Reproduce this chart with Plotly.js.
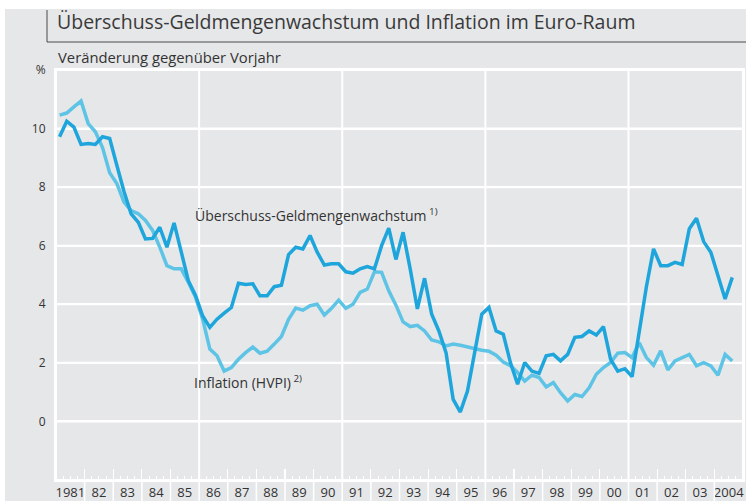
<!DOCTYPE html>
<html>
<head>
<meta charset="utf-8">
<script src="https://cdn.plot.ly/plotly-3.0.1.min.js"></script>
<style>html,body{margin:0;padding:0;background:#fff;}#chart{width:746px;height:501px;}</style>
</head>
<body>
<div id="chart"></div>
<script>
// Quarterly observations, 1981 Q1 – 2004 Q3 (year-on-year % change)
const startYear = 1981;
const quarterCount = 95;
const moneyGrowth = [
  9.72, 10.25, 10.05, 9.46,   9.49, 9.46, 9.72, 9.66,   8.75, 7.85, 7.09, 6.80,
  6.23, 6.25, 6.63, 5.95,     6.78, 5.80, 4.80, 4.30,   3.60, 3.21, 3.49, 3.70,
  3.89, 4.72, 4.68, 4.70,     4.29, 4.29, 4.60, 4.65,   5.70, 5.95, 5.89, 6.35,
  5.78, 5.34, 5.38, 5.38,     5.11, 5.06, 5.21, 5.29,   5.21, 6.00, 6.60, 5.53,
  6.46, 5.20, 3.84, 4.89,     3.66, 3.09, 2.35, 0.75,   0.32, 1.04, 2.35, 3.66,
  3.89, 3.09, 2.98, 2.01,     1.27, 2.01, 1.72, 1.64,   2.24, 2.29, 2.07, 2.29,
  2.87, 2.90, 3.09, 2.95,     3.24, 2.12, 1.72, 1.80,   1.53, 3.10, 4.60, 5.89,
  5.32, 5.32, 5.43, 5.36,     6.58, 6.94, 6.14, 5.78,   4.98, 4.18, 4.92
];
const inflation = [
  10.46, 10.53, 10.74, 10.94, 10.17, 9.89, 9.35, 8.49,  8.12, 7.49, 7.20, 7.09,
  6.86, 6.52, 5.95, 5.32,     5.21, 5.21, 4.75, 4.24,   3.49, 2.47, 2.24, 1.72,
  1.84, 2.12, 2.35, 2.54,     2.33, 2.40, 2.64, 2.90,   3.49, 3.87, 3.80, 3.95,
  4.00, 3.63, 3.86, 4.14,     3.86, 4.00, 4.41, 4.52,   5.11, 5.09, 4.46, 3.97,
  3.40, 3.24, 3.28, 3.09,     2.78, 2.72, 2.58, 2.64,   2.60, 2.54, 2.47, 2.43,
  2.40, 2.26, 2.03, 1.90,     1.67, 1.38, 1.58, 1.50,   1.18, 1.33, 0.98, 0.70,
  0.92, 0.85, 1.15, 1.61,     1.84, 2.01, 2.33, 2.35,   2.18, 2.69, 2.18, 1.92,
  2.41, 1.76, 2.07, 2.18,     2.29, 1.90, 2.01, 1.90,   1.58, 2.29, 2.06
];
const yearLabels = ["1981","82","83","84","85","86","87","88","89","90","91","92",
  "93","94","95","96","97","98","99","00","01","02","03","2004"];
const yTickValues = [0, 2, 4, 6, 8, 10, 12];
const yTickLabels = ["0", "2", "4", "6", "8", "10", "%"];
const gridYears = [1986, 1991, 1996, 2001];
const titleText = "Überschuss-Geldmengenwachstum und Inflation im Euro-Raum";
const subtitleText = "Veränderung gegenüber Vorjahr";
const moneyLabel = "Überschuss-Geldmengenwachstum<sup> 1)</sup>";
const inflationLabel = "Inflation (HVPI)<sup> 2)</sup>";

// quarter mid-points as decimal years
const quarters = [];
for (let i = 0; i < quarterCount; i++) quarters.push(startYear + (i + 0.5) / 4);

const X0 = 1981, X1 = 2005, Y0 = -2, Y1 = 12;
const yearMids = yearLabels.map((_, i) => X0 + i + 0.5);
const px = v => (v - X0) / (X1 - X0);
const py = v => (v - Y0) / (Y1 - Y0);

const W = 746, H = 501;
const M = {l: 56, r: 3, t: 70, b: 21};
const plotW = W - M.l - M.r, plotH = H - M.t - M.b;
const pxX = p => (p - M.l) / plotW;       // pixel -> paper x
const pxY = p => (H - M.b - p) / plotH;   // pixel -> paper y

const bg = "#e6e7e9";
const txt = "#333333";
const font = "Open Sans, Noto Sans, sans-serif";
const white = {color: "#ffffff", width: 2};

const shapes = [];
// white margins at top and left of the grey panel
shapes.push({type: "rect", xref: "paper", yref: "paper", layer: "below",
  x0: pxX(-5), x1: pxX(W + 5), y0: pxY(9), y1: pxY(-5),
  fillcolor: "#ffffff", line: {width: 0}});
shapes.push({type: "rect", xref: "paper", yref: "paper", layer: "below",
  x0: pxX(-5), x1: pxX(5), y0: pxY(H + 5), y1: pxY(-5),
  fillcolor: "#ffffff", line: {width: 0}});
// horizontal grid lines (and frame top)
yTickValues.forEach(v => shapes.push({type: "line", xref: "paper", yref: "paper", layer: "below",
  x0: 0, x1: 1, y0: py(v), y1: py(v), line: white}));
// frame left / right / bottom
[0, 1].forEach(xx => shapes.push({type: "line", xref: "paper", yref: "paper", layer: "below",
  x0: xx, x1: xx, y0: 0, y1: 1, line: white}));
shapes.push({type: "line", xref: "paper", yref: "paper", layer: "below",
  x0: 0, x1: 1, y0: 0, y1: 0, line: white});
// vertical grid lines every 5 years
gridYears.forEach(g => shapes.push({type: "line", xref: "paper", yref: "paper", layer: "below",
  x0: px(g), x1: px(g), y0: 0, y1: 1, line: white}));
// separators between year labels below the axis
for (let y = X0 + 1; y < X1; y++) {
  shapes.push({type: "line", xref: "paper", yref: "paper", layer: "above",
    x0: px(y), x1: px(y), y0: pxY(H + 2), y1: 0, line: {color: "#ffffff", width: 1.5}});
}
// title bracket
shapes.push({type: "line", xref: "paper", yref: "paper", x0: pxX(47), x1: pxX(47),
  y0: pxY(42), y1: pxY(10), line: {color: "#4a4a4a", width: 1}});
shapes.push({type: "line", xref: "paper", yref: "paper", x0: pxX(47), x1: pxX(W + 2),
  y0: pxY(42), y1: pxY(42), line: {color: "#4a4a4a", width: 1}});

const traces = [
  {x: quarters, y: inflation, type: "scatter", mode: "lines", name: "Inflation",
   line: {color: "#5ec4e6", width: 3.5}, hoverinfo: "skip"},
  {x: quarters, y: moneyGrowth, type: "scatter", mode: "lines", name: "Geldmenge",
   line: {color: "#1ea6dc", width: 3.5}, hoverinfo: "skip"},
  // invisible trace bound to the label axis
  {x: [X0 + 0.5], y: [-5], xaxis: "x2", type: "scatter", mode: "markers",
   marker: {size: 1, opacity: 0}, showlegend: false, hoverinfo: "skip"}
];

const layout = {
  width: W, height: H,
  margin: M,
  paper_bgcolor: bg,
  plot_bgcolor: bg,
  showlegend: false,
  font: {family: font, color: txt},
  title: {text: titleText, xref: "container", yref: "container",
    x: 57 / W, xanchor: "left", y: 1 - 22 / H, yanchor: "middle",
    font: {family: font, size: 19.5, color: "#3a3a3a"}},
  xaxis: {range: [X0, X1], showgrid: false, zeroline: false,
    showline: true, linecolor: "#ffffff", linewidth: 2, mirror: true,
    tickmode: "linear", tick0: X0, dtick: 1, ticks: "inside", ticklen: 11,
    tickwidth: 1.2, tickcolor: "#ffffff", showticklabels: false,
    minor: {tickmode: "linear", tick0: X0, dtick: 0.25, ticks: "inside", ticklen: 4,
      tickwidth: 1, tickcolor: "#ffffff", showgrid: false}},
  xaxis2: {range: [X0, X1], overlaying: "x", anchor: "y", side: "bottom",
    showgrid: false, zeroline: false, showline: false, ticks: "",
    tickmode: "array", tickvals: yearMids, ticktext: yearLabels,
    tickfont: {family: font, size: 13, color: txt}, ticklabelstandoff: 3},
  yaxis: {range: [Y0, Y1], showgrid: true, gridcolor: "#ffffff", gridwidth: 2,
    zeroline: false, showline: true, linecolor: "#ffffff", linewidth: 2, mirror: true,
    tickmode: "array", tickvals: yTickValues, ticktext: yTickLabels, ticks: "",
    tickfont: {family: font, size: 12, color: txt}, ticklabelstandoff: 6},
  shapes: shapes,
  annotations: [
    {xref: "paper", yref: "paper", x: 0, y: pxY(57), xanchor: "left", yanchor: "middle",
     text: subtitleText, showarrow: false, font: {family: font, size: 14.8, color: txt}},
    {xref: "x", yref: "y", x: 1985.78, y: 7.05, xanchor: "left", yanchor: "middle",
     text: moneyLabel, showarrow: false, font: {family: font, size: 14, color: txt}},
    {xref: "x", yref: "y", x: 1985.74, y: 1.34, xanchor: "left", yanchor: "middle",
     text: inflationLabel, showarrow: false, font: {family: font, size: 14, color: txt}}
  ]
};

Plotly.newPlot("chart", traces, layout, {displayModeBar: false, staticPlot: true});
</script>
</body>
</html>
